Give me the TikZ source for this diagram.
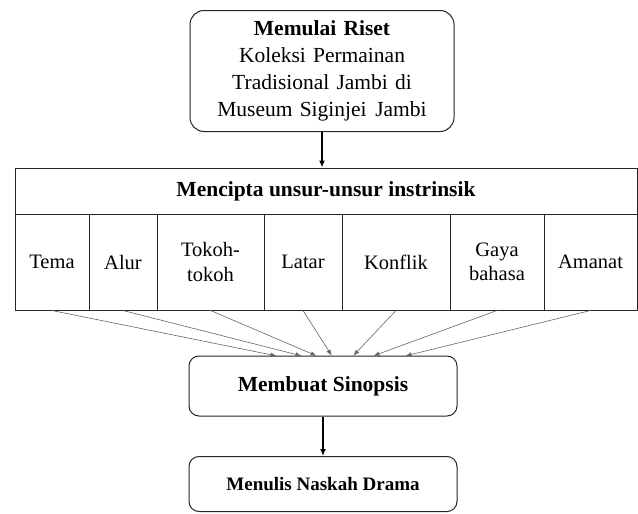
\documentclass[tikz,border=0pt]{standalone}
\usepackage{fontspec}
\setmainfont{Liberation Serif}
\usetikzlibrary{arrows.meta}
\begin{document}
\begin{tikzpicture}[x=1pt,y=-1pt,
  rbox/.style={draw=black!85, line width=1pt, rounded corners=14pt, align=center, inner sep=0pt},
  cell/.style={draw=black!85, line width=1pt, align=center, inner sep=0pt, minimum height=96pt, font=\fontsize{20.5}{24.5}\selectfont},
  hdrbox/.style={draw=black!85, line width=1pt, inner sep=0pt, minimum height=46pt, minimum width=622pt, font=\fontsize{21.5}{25}\selectfont\bfseries},
  mainarr/.style={line width=1.3pt, -{Latex[length=7pt,width=6pt]}},
  thinarr/.style={draw=black!60, line width=0.6pt, -{Latex[length=6pt,width=4.5pt]}, shorten >=0.5pt}
]
\useasboundingbox (0,0) rectangle (638,514);
\fill[white] (0,0) rectangle (638,514);

\node[rbox, minimum width=264pt, minimum height=121pt, text width=250pt,
  font=\fontsize{21.5}{27}\selectfont] (riset) at (322,71)
  {\textbf{Memulai Riset}\\Koleksi Permainan\\Tradisional Jambi di\\Museum Siginjei\hspace{0.4em}Jambi};

\node[hdrbox] (hdr) at (326,191) {Mencipta unsur-unsur instrinsik};

\node[cell, minimum width=74pt] (tema) at (52,262) {Tema};
\node[cell, minimum width=68pt] (alur) at (123,262) {Alur};
\node[cell, minimum width=107pt] (tokoh) at (210.5,262) {Tokoh-\\tokoh};
\node[cell, minimum width=78pt] (latar) at (303,262) {Latar};
\node[cell, minimum width=108pt] (konflik) at (396,262) {Konflik};
\node[cell, minimum width=94pt] (gaya) at (497,262) {Gaya\\bahasa};
\node[cell, minimum width=93pt] (amanat) at (590.5,262) {Amanat};

\node[rbox, rounded corners=10pt, minimum width=268pt, minimum height=60pt,
  font=\fontsize{21.5}{25}\selectfont\bfseries] (sin) at (323,386) {Membuat Sinopsis};
\node[rbox, rounded corners=10pt, minimum width=268pt, minimum height=55pt,
  font=\fontsize{19}{23}\selectfont\bfseries] (nask) at (323,484) {Menulis Naskah Drama};

\draw[mainarr] (riset.south) -- (hdr.north -| riset.south);
\draw[mainarr] (sin.south) -- (nask.north);

\coordinate (t1) at (277,356);
\coordinate (t2) at (302,356);
\coordinate (t3) at (317,356);
\coordinate (t4) at (332,356);
\coordinate (t5) at (353,356);
\coordinate (t6) at (373,356);
\coordinate (t7) at (405,356);

\draw[thinarr] (tema.south) -- (t1);
\draw[thinarr] (alur.south) -- (t2);
\draw[thinarr] (tokoh.south) -- (t3);
\draw[thinarr] (latar.south) -- (t4);
\draw[thinarr] (konflik.south) -- (t5);
\draw[thinarr] (gaya.south) -- (t6);
\draw[thinarr] (amanat.south) -- (t7);
\end{tikzpicture}
\end{document}
